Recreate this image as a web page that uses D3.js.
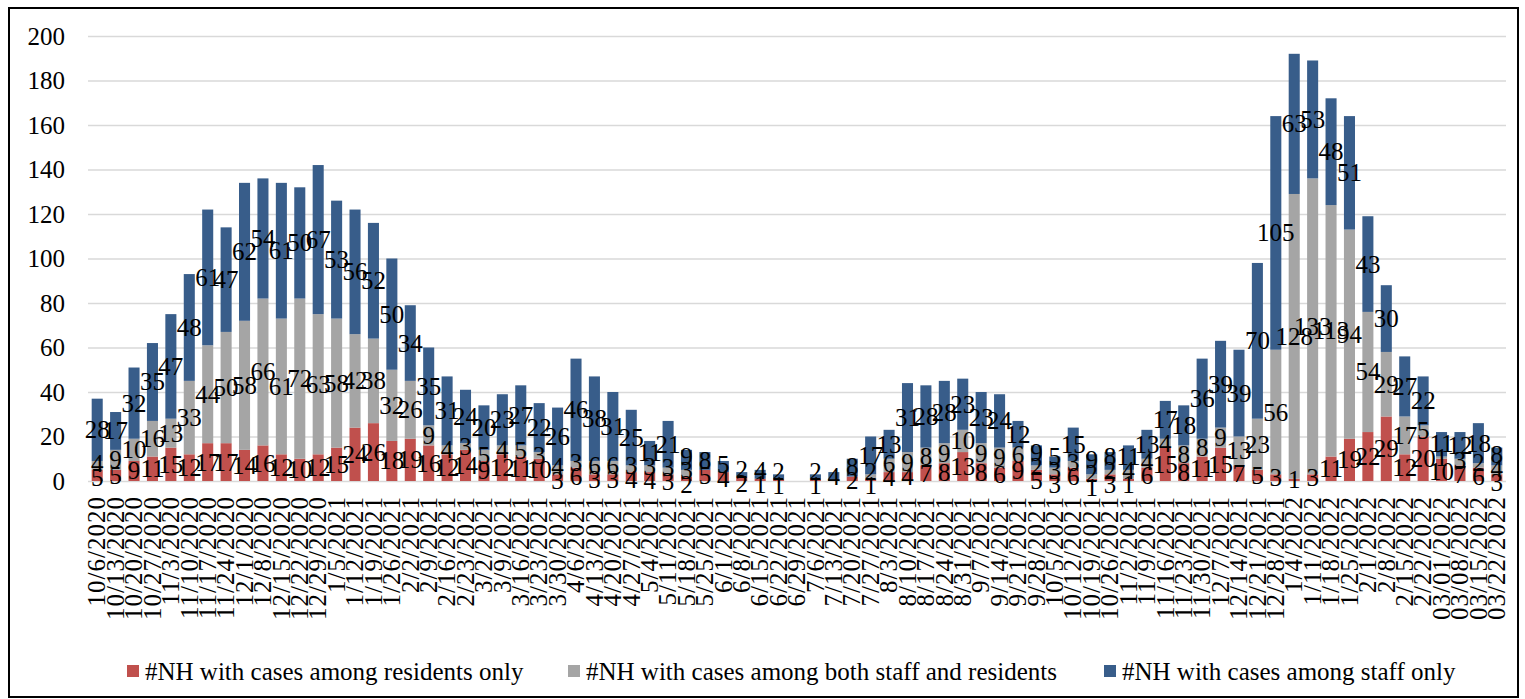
<!DOCTYPE html>
<html><head><meta charset="utf-8">
<script src="https://cdn.jsdelivr.net/npm/d3@7"></script>
<style>
html,body{margin:0;padding:0;background:#fff;}
svg{display:block;}
text{font-family:"Liberation Serif","Times New Roman",serif;fill:#000;}
</style></head><body>
<svg id="chart" width="1525" height="699"></svg>
<script>
const dates = ["10/6/2020","10/13/2020","10/20/2020","10/27/2020","11/3/2020","11/10/2020","11/17/2020","11/24/2020","12/1/2020","12/8/2020","12/15/2020","12/22/2020","12/29/2020","1/5/2021","1/12/2021","1/19/2021","1/26/2021","2/2/2021","2/9/2021","2/16/2021","2/23/2021","3/2/2021","3/9/2021","3/16/2021","3/23/2021","3/30/2021","4/6/2021","4/13/2021","4/20/2021","4/27/2021","5/4/2021","5/11/2021","5/18/2021","5/25/2021","6/1/2021","6/8/2021","6/15/2021","6/22/2021","6/29/2021","7/6/2021","7/13/2021","7/20/2021","7/27/2021","8/3/2021","8/10/2021","8/17/2021","8/24/2021","8/31/2021","9/7/2021","9/14/2021","9/21/2021","9/28/2021","10/5/2021","10/12/2021","10/19/2021","10/26/2021","11/2/2021","11/9/2021","11/16/2021","11/23/2021","11/30/2021","12/7/2021","12/14/2021","12/21/2021","12/28/2021","1/4/2022","1/11/2022","1/18/2022","1/25/2022","2/1/2022","2/8/2022","2/15/2022","2/22/2022","03/01/2022","03/08/2022","03/15/2022","03/22/2022"];
const residentsOnly = [5,5,9,11,15,12,17,17,14,16,12,10,12,15,24,26,18,19,16,12,14,9,12,11,10,3,6,3,3,4,4,3,2,5,4,2,1,1,0,1,0,2,1,4,4,7,8,13,8,6,9,5,3,6,1,3,1,6,15,8,11,15,7,5,3,1,3,11,19,22,29,12,20,10,7,6,3];
const bothStaffResidents = [4,9,10,16,13,33,44,50,58,66,61,72,63,58,42,38,32,26,9,4,3,5,4,5,3,4,3,6,6,3,3,3,3,0,0,0,0,0,0,0,0,0,2,6,9,8,9,10,9,9,6,2,3,3,2,2,4,4,4,8,8,9,13,23,56,128,133,113,94,54,29,17,5,1,3,2,4];
const staffOnly = [28,17,32,35,47,48,61,47,62,54,61,50,67,53,56,52,50,34,35,31,24,20,23,27,22,26,46,38,31,25,11,21,9,8,5,2,4,2,0,2,4,8,17,13,31,28,28,23,23,24,12,9,5,15,9,8,11,13,17,18,36,39,39,70,105,63,53,48,51,43,30,27,22,11,12,18,8];
const yTicks = [0,20,40,60,80,100,120,140,160,180,200];
const seriesNames = ["#NH with cases among residents only","#NH with cases among both staff and residents","#NH with cases among staff only"];
const seriesColors = ["#C0504D","#A5A5A5","#385D8A"];

const svg = d3.select("#chart");
const plotL = 88, plotR = 1506, plotT = 36, plotB = 481;

// outer border
svg.append("rect").attr("x",9).attr("y",8).attr("width",1509).attr("height",689)
  .attr("fill","none").attr("stroke","#000").attr("stroke-width",2);

const x = d3.scaleBand().domain(dates).range([plotL,plotR]).paddingInner(0.4).paddingOuter(0.2);
const y = d3.scaleLinear().domain([0,200]).range([plotB,plotT]);

// gridlines + y labels
const yAxis = svg.append("g").attr("transform",`translate(${plotL},0)`)
  .call(d3.axisLeft(y).tickValues(yTicks).tickSize(-(plotR-plotL)).tickPadding(23).tickFormat(d3.format("d")));
yAxis.select(".domain").remove();
yAxis.selectAll(".tick line").attr("stroke","#D9D9D9").attr("stroke-width",1.6);
yAxis.selectAll(".tick text").attr("font-size",25).attr("font-family","Liberation Serif").attr("fill","#000");

// stacked data
const rows = dates.map((d,i)=>({date:d, r:residentsOnly[i], b:bothStaffResidents[i], s:staffOnly[i]}));
const keys = ["r","b","s"];
const stacked = d3.stack().keys(keys)(rows);

svg.append("g").selectAll("g").data(stacked).join("g")
  .attr("fill",(d,i)=>seriesColors[i])
  .selectAll("rect").data(d=>d).join("rect")
  .attr("x",d=>x(d.data.date)).attr("width",x.bandwidth())
  .attr("y",d=>y(d[1])).attr("height",d=>Math.max(0,y(d[0])-y(d[1])));

// x axis labels
const xAxis = svg.append("g").attr("transform",`translate(0,${plotB})`)
  .call(d3.axisBottom(x).tickSize(0));
xAxis.select(".domain").remove();
xAxis.selectAll(".tick text")
  .attr("font-size",25).attr("font-family","Liberation Serif").attr("fill","#000")
  .attr("letter-spacing","1px")
  .attr("text-anchor","end").attr("transform","rotate(-90)")
  .attr("x",-15).attr("y",0).attr("dy","0.33em");

// data labels with simple overlap separation
const labels = [];
rows.forEach((row,i)=>{
  const list = [];
  stacked.forEach(layer=>{
    const seg = layer[i];
    const v = seg[1]-seg[0];
    if (v>0) list.push({date:row.date, v:v, yy:(y(seg[0])+y(seg[1]))/2});
  });
  const G = 14;
  for (let pass=0; pass<4; pass++){
    for (let k=0;k<list.length-1;k++){
      const lo=list[k], hi=list[k+1];
      const gap = lo.yy-hi.yy;
      if (gap<G){ const p=(G-gap)/2; lo.yy+=p; hi.yy-=p; }
    }
  }
  list.forEach(l=>labels.push(l));
});
svg.append("g").selectAll("text").data(labels).join("text")
  .attr("x",d=>x(d.date)+x.bandwidth()/2).attr("y",d=>d.yy)
  .attr("dy","0.34em").attr("text-anchor","middle")
  .attr("font-size",25).text(d=>d.v);

// legend
const legendX = [127,568,1104];
const lg = svg.append("g").selectAll("g").data(seriesNames).join("g")
  .attr("transform",(d,i)=>`translate(${legendX[i]},665)`);
lg.append("rect").attr("width",12).attr("height",12).attr("fill",(d,i)=>seriesColors[i]);
lg.append("text").attr("x",18).attr("y",6).attr("dy","0.34em").attr("font-size",25).text(d=>d);
</script>
</body></html>
